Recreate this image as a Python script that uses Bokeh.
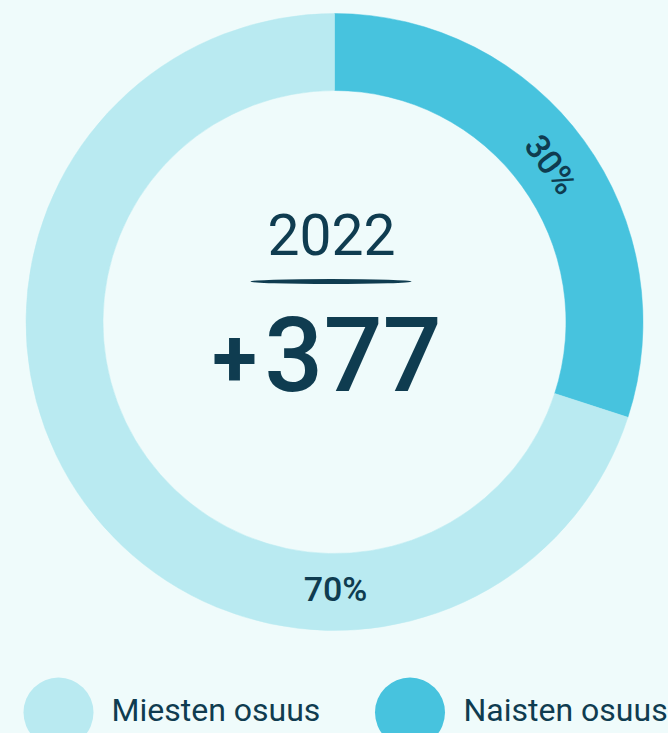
import math
from bokeh.plotting import figure
from bokeh.models import Range1d, ColumnDataSource
from bokeh.core.properties import value
from bokeh.embed import file_html
from bokeh.resources import INLINE

# ---- data ----
categories = ["Naisten osuus", "Miesten osuus"]
shares = [30, 70]
share_labels = ["30%", "70%"]
legend_order = ["Miesten osuus", "Naisten osuus"]
year_label = "2022"
change_sign = "+"
change_value = "377"

# ---- style ----
BG = "#effbfb"
LIGHT = "#b9eaf1"
DARK = "#47c3de"
TEXT = "#0f3c50"
colors = {"Naisten osuus": DARK, "Miesten osuus": LIGHT}
FONT = "Roboto"
FONT_MED = "Roboto Medium"

W, H = 668, 733
p = figure(width=W, height=H, output_backend="svg", toolbar_location=None,
           x_range=Range1d(0, W), y_range=Range1d(0, H),
           min_border=0, background_fill_color=BG, border_fill_color=BG,
           outline_line_color=None)
p.axis.visible = False
p.grid.visible = False

def py(page_y):
    # page pixel y -> data y (y up)
    return H - page_y

cx, cy = 334, py(321.5)
R_OUT, R_IN = 308.5, 231.5

# wedges, clockwise from top
total = sum(shares)
starts, ends, cols = [], [], []
cum = 0
for c, s in zip(categories, shares):
    a0 = math.pi / 2 - 2 * math.pi * cum / total
    cum += s
    a1 = math.pi / 2 - 2 * math.pi * cum / total
    starts.append(a0); ends.append(a1); cols.append(colors[c])
src = ColumnDataSource(dict(x=[cx] * len(shares), y=[cy] * len(shares),
                            start=starts, end=ends, color=cols))
p.annular_wedge(x="x", y="y", inner_radius=R_IN, outer_radius=R_OUT,
                start_angle="start", end_angle="end", direction="clock",
                fill_color="color", line_color="color", line_width=0.5, source=src)

# 30% label: at wedge middle, rotated tangentially
R_MID = 268
mid = (starts[0] + ends[0]) / 2
p.text(x=[cx + R_MID * math.cos(mid)], y=[cy + R_MID * math.sin(mid)],
       text=[share_labels[0]], angle=[mid - math.pi / 2],
       text_align="center", text_baseline="middle",
       text_font=value(FONT_MED), text_font_size="34px", text_color=TEXT)
# 70% label at bottom of ring
p.text(x=[cx + 1], y=[cy - 267], text=[share_labels[1]],
       text_align="center", text_baseline="middle",
       text_font=value(FONT_MED), text_font_size="34px", text_color=TEXT)

# centre texts
p.text(x=[331], y=[py(234)], text=[year_label], text_align="center",
       text_baseline="middle", text_font=value(FONT), text_font_size="57px",
       text_color=TEXT)
p.ellipse(x=[330.5], y=[py(281)], width=161, height=5, fill_color=TEXT,
          line_color=None)
p.text(x=[234], y=[py(356)], text=[change_sign], text_align="center",
       text_baseline="middle", text_font=value(FONT), text_font_size="82px",
       text_font_style="bold", text_color=TEXT)
p.text(x=[352.5], y=[py(353)], text=[change_value], text_align="center",
       text_baseline="middle", text_font=value(FONT_MED), text_font_size="104px",
       text_color=TEXT)

# legend
leg_x = [58, 409.5]
txt_x = [111, 463]
p.circle(x=leg_x, y=[py(712)] * 2, radius=35,
         fill_color=[colors[c] for c in legend_order], line_color=None)
p.text(x=txt_x, y=[py(709)] * 2, text=legend_order, text_align="left",
       text_baseline="middle", text_font=value(FONT), text_font_size="32px",
       text_color=TEXT)

html = file_html(p, INLINE)
html = html.replace("<head>", "<head><style>html,body{background:%s;margin:0;padding:0;overflow:hidden}</style>" % BG, 1)
open("out.html", "w").write(html)
